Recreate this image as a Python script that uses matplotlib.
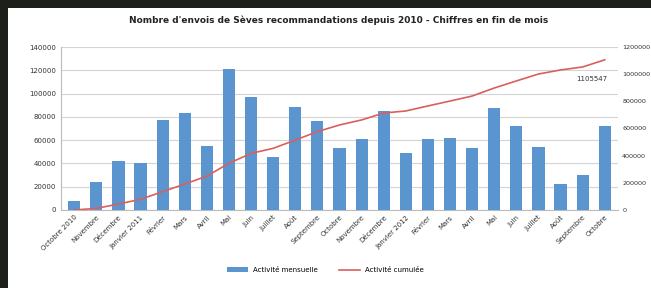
import matplotlib
matplotlib.use("Agg")
import matplotlib.pyplot as plt
import numpy as np
from matplotlib.patches import Rectangle
from matplotlib.ticker import FuncFormatter

# --- donnees ---
mois = ["Octobre 2010", "Novembre", "Décembre", "Janvier 2011", "Février", "Mars",
        "Avril", "Mai", "Juin", "Juillet", "Août", "Septembre", "Octobre",
        "Novembre", "Décembre", "Janvier 2012", "Février", "Mars", "Avril",
        "Mai", "Juin", "Juillet", "Août", "Septembre", "Octobre"]
activite_mensuelle = [7700, 24300, 42300, 40100, 77300, 83000, 55000, 121100,
                      96800, 45300, 88200, 76400, 53500, 61000, 85000, 49000,
                      61000, 62000, 53000, 88000, 72000, 54000, 22000, 30000, 72000]
activite_cumulee = [0, 12000, 44000, 79000, 135000, 191000, 250000, 344000,
                    417000, 454000, 515000, 577000, 626000, 663000, 714000,
                    729000, 766000, 802000, 839000, 898000, 950000, 1001000,
                    1031000, 1053000, 1105547]

titre = "Nombre d'envois de Sèves recommandations depuis 2010 - Chiffres en fin de mois"

bleu = "#5B95CF"
rouge = "#D9605C"

fig = plt.figure(figsize=(6.51, 2.88), dpi=100)
fig.patch.set_facecolor("#1c1f1a")
# fond blanc du graphique (bord sombre en haut et a gauche)
fig.patches.append(Rectangle((8 / 651, 0), 1, 1 - 8 / 288, transform=fig.transFigure,
                             facecolor="white", edgecolor="none", zorder=-10))

ax = fig.add_axes([61 / 651, 1 - 210 / 288, 557 / 651, 163 / 288])
x = np.arange(len(mois))
barres = ax.bar(x, activite_mensuelle, width=0.55, color=bleu, zorder=3,
                label="Activité mensuelle")
ax.set_xlim(-0.6, len(mois) - 0.4)
ax.set_ylim(0, 140000)
ax.set_yticks(np.arange(0, 140001, 20000))
ax.yaxis.grid(True, color="#d4d4d4", linewidth=0.8, zorder=0)
ax.set_xticks(x)
ax.set_xticklabels(mois, rotation=45, ha="right", rotation_mode="anchor", fontsize=5)
ax.tick_params(axis="y", labelsize=5, length=0, colors="#333333")
ax.tick_params(axis="x", length=0, pad=3, colors="#333333")
for s in ["top", "right"]:
    ax.spines[s].set_visible(False)
ax.spines["left"].set_color("#bbbbbb")
ax.spines["bottom"].set_color("#bbbbbb")

ax2 = ax.twinx()
ligne, = ax2.plot(x, activite_cumulee, color=rouge, linewidth=1.2, zorder=4,
                  label="Activité cumulée")
ax2.set_ylim(0, 1200000)
ax2.set_yticks(np.arange(0, 1200001, 200000))
ax2.yaxis.set_major_formatter(FuncFormatter(lambda v, p: f"{int(v)}"))
ax2.tick_params(axis="y", labelsize=4.6, length=0, colors="#333333", pad=3)
for s in ["top", "right", "left", "bottom"]:
    ax2.spines[s].set_visible(False)

ax2.annotate(f"{activite_cumulee[-1]}", (x[-1], activite_cumulee[-1]),
             xytext=(2, -15), textcoords="offset points", ha="right",
             fontsize=5, color="#333333")

fig.text(0.52, 1 - 20 / 288, titre, ha="center", va="center", fontsize=6.5,
         fontweight="bold", color="#222222")

fig.legend(handles=[barres, ligne], loc="center", bbox_to_anchor=(0.5, 1 - 270 / 288),
           ncol=2, fontsize=5, frameon=False, handlelength=3, columnspacing=3)

fig.savefig("out.png", dpi=100, facecolor=fig.get_facecolor())
